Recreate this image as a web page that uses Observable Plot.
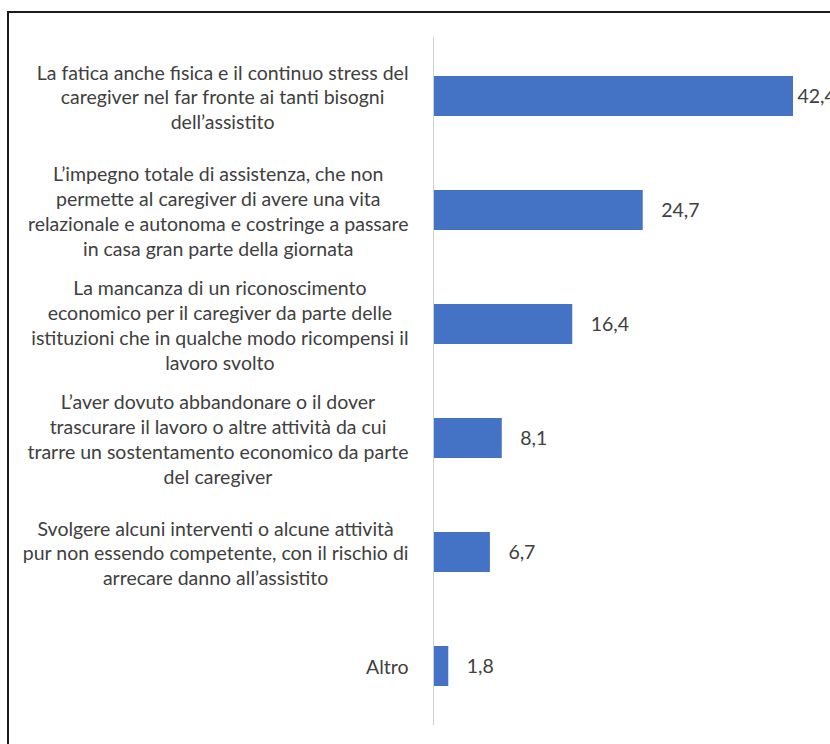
<!DOCTYPE html>
<html>
<head>
<meta charset="utf-8">
<script src="https://cdn.jsdelivr.net/npm/d3@7"></script>
<script src="https://cdn.jsdelivr.net/npm/@observablehq/plot@0.6"></script>
<style>
  html, body { margin: 0; padding: 0; background: #fff; overflow: hidden; width: 830px; height: 744px; }
  #wrap { position: relative; width: 830px; height: 744px; }
  #frame { position: absolute; left: 7px; top: 11px; width: 900px; height: 800px; border-left: 2px solid #1a1a1a; border-top: 2px solid #1a1a1a; box-sizing: border-box; pointer-events: none; }
  #chart { position: absolute; left: 0; top: 0; }
</style>
</head>
<body>
<div id="wrap">
  <div id="chart"></div>
  <div id="frame"></div>
</div>
<script>
const categories = [
  "La fatica anche fisica e il continuo stress del\ncaregiver nel far fronte ai tanti bisogni\ndell’assistito",
  "L’impegno totale di assistenza, che non\npermette al caregiver di avere una vita\nrelazionale e autonoma e costringe a passare\nin casa gran parte della giornata",
  "La mancanza di un riconoscimento\neconomico per il caregiver da parte delle\nistituzioni che in qualche modo ricompensi il\nlavoro svolto",
  "L’aver dovuto abbandonare o il dover\ntrascurare il lavoro o altre attività da cui\ntrarre un sostentamento economico da parte\ndel caregiver",
  "Svolgere alcuni interventi o alcune attività\npur non essendo competente, con il rischio di\narrecare danno all’assistito",
  "Altro"
];
const values = [42.4, 24.7, 16.4, 8.1, 6.7, 1.8];
const valueLabels = ["42,4", "24,7", "16,4", "8,1", "6,7", "1,8"];

const data = categories.map((c, i) => ({category: c, value: values[i], label: valueLabels[i]}));
const maxValue = d3.max(values);

const FONT = "Lato, 'Open Sans', sans-serif";
const plot = Plot.plot({
  width: 830,
  height: 744,
  marginTop: 37,
  marginBottom: 19,
  marginLeft: 433,
  marginRight: 37,
  style: {fontFamily: FONT, fontSize: "19.5px", color: "#404040", background: "transparent"},
  x: {domain: [0, maxValue], axis: null},
  y: {domain: categories, paddingInner: 0.65, paddingOuter: 0.325, axis: null},
  marks: [
    Plot.barX(data, {x: "value", y: "category", fill: "#4472C4"}),
    Plot.ruleX([0], {stroke: "#d0d0d0", strokeWidth: 1}),
    Plot.text(data, {y: "category", text: "category", frameAnchor: "left", textAnchor: "end", dx: -25, lineHeight: 1.27, fill: "#404040", className: "catlabels"}),
    Plot.text(data.filter(d => d.value !== maxValue), {x: "value", y: "category", text: "label", textAnchor: "start", dx: 18, fill: "#404040"}),
    Plot.text(data.filter(d => d.value === maxValue), {x: "value", y: "category", text: "label", textAnchor: "start", dx: 4, fill: "#404040"})
  ]
});
document.getElementById("chart").appendChild(plot);

// Excel-style wrapped labels: block right-aligned, lines centered within block
const texts = plot.querySelectorAll('g.catlabels text');
texts.forEach(t => {
  const spans = t.querySelectorAll("tspan");
  if (!spans.length) return;
  const w = d3.max(Array.from(spans), s => s.getComputedTextLength());
  t.setAttribute("text-anchor", "middle");
  spans.forEach(s => s.setAttribute("text-anchor", "middle"));
  const tr = t.getAttribute("transform") || "";
  t.setAttribute("transform", tr + ` translate(${-w / 2},0)`);
});
</script>
</body>
</html>
